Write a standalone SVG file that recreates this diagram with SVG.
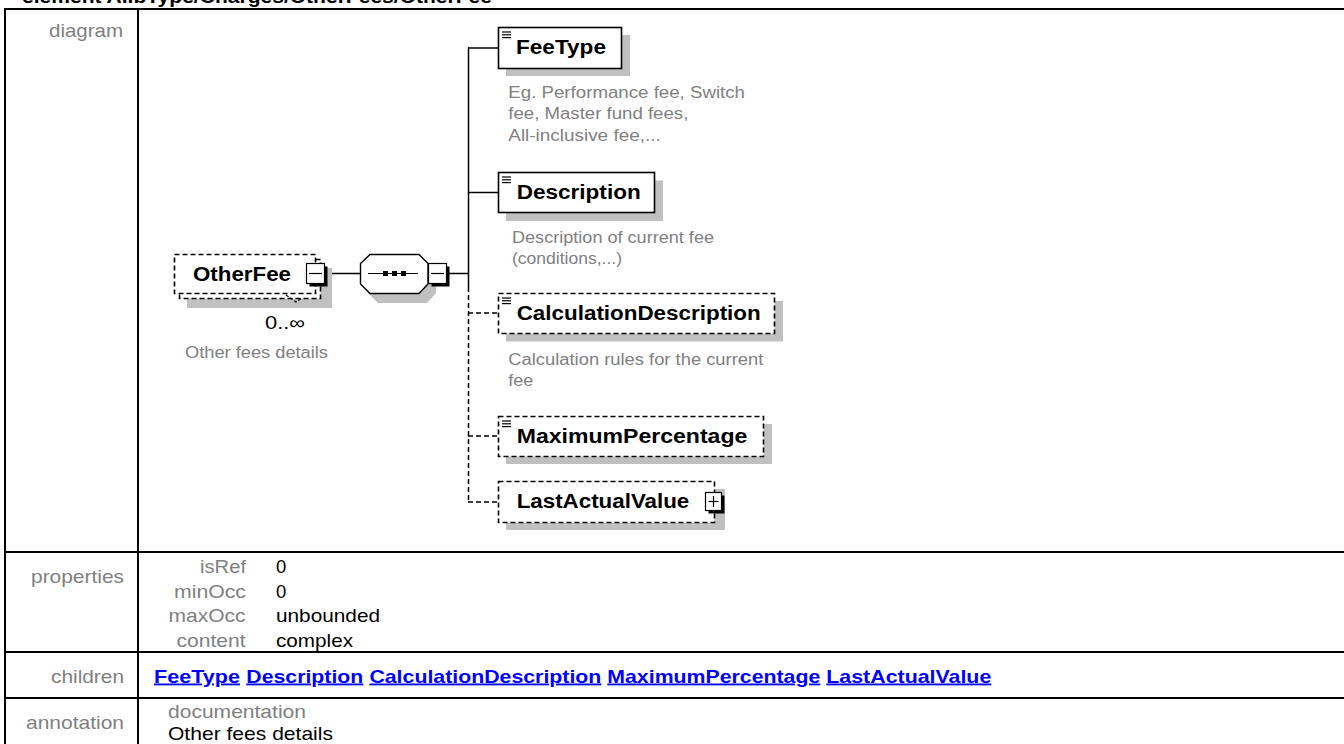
<svg xmlns="http://www.w3.org/2000/svg" width="1344" height="744" viewBox="0 0 1344 744">
<style>
text{font-family:"Liberation Sans",Arial,sans-serif}
.ttl{font-size:18.5px;font-weight:bold;fill:#000}
.lbl{font-size:18.5px;fill:#808080}
.val{font-size:18.5px;fill:#000}
.link{font-size:18.5px;font-weight:bold;fill:#0000ff;text-decoration:underline}
.nm{font-size:20px;font-weight:bold;fill:#000}
.ann{font-size:16px;fill:#808080}
.occ{font-size:18px;fill:#000}
.box{fill:#fff;stroke:#000;stroke-width:1.6}
.dbox{fill:#fff;stroke:#000;stroke-width:1.6;stroke-dasharray:5 3}
.shd{fill:#c0c0c0}
.ln{stroke:#000;stroke-width:1.5;fill:none}
.dash{stroke-dasharray:5 3}
.tbl{stroke:#000;stroke-width:2}
.ico{stroke:#000;stroke-width:1.2}
.blk{fill:#000}
</style>
<rect x="0" y="0" width="1344" height="744" fill="#fff"/>
<text class="ttl" x="22" y="3" textLength="470" lengthAdjust="spacingAndGlyphs">element AIIbType/Charges/OtherFees/OtherFee</text>
<g id="table">
<line class="tbl" x1="4" y1="9" x2="1344" y2="9"/>
<line class="tbl" x1="5" y1="8" x2="5" y2="744"/>
<line class="tbl" x1="138" y1="8" x2="138" y2="744"/>
<line class="tbl" x1="4" y1="552" x2="1344" y2="552"/>
<line class="tbl" x1="4" y1="652" x2="1344" y2="652"/>
<line class="tbl" x1="4" y1="698" x2="1344" y2="698"/>
<text class="lbl" x="49" y="37" textLength="74" lengthAdjust="spacingAndGlyphs">diagram</text>
<text class="lbl" x="31" y="583" textLength="93" lengthAdjust="spacingAndGlyphs">properties</text>
<text class="lbl" x="200" y="573" textLength="46" lengthAdjust="spacingAndGlyphs">isRef</text>
<text class="lbl" x="174" y="597.5" textLength="72" lengthAdjust="spacingAndGlyphs">minOcc</text>
<text class="lbl" x="168.5" y="622" textLength="77" lengthAdjust="spacingAndGlyphs">maxOcc</text>
<text class="lbl" x="176.5" y="646.5" textLength="69" lengthAdjust="spacingAndGlyphs">content</text>
<text class="val" x="276" y="573">0</text>
<text class="val" x="276" y="597.5">0</text>
<text class="val" x="276" y="622" textLength="104" lengthAdjust="spacingAndGlyphs">unbounded</text>
<text class="val" x="276" y="646.5" textLength="77" lengthAdjust="spacingAndGlyphs">complex</text>
<text class="lbl" x="51" y="682.5" textLength="73" lengthAdjust="spacingAndGlyphs">children</text>
<text class="link" x="154" y="682.5" textLength="86" lengthAdjust="spacingAndGlyphs">FeeType</text>
<text class="link" x="246.3" y="682.5" textLength="117" lengthAdjust="spacingAndGlyphs">Description</text>
<text class="link" x="369.4" y="682.5" textLength="232" lengthAdjust="spacingAndGlyphs">CalculationDescription</text>
<text class="link" x="607.3" y="682.5" textLength="213" lengthAdjust="spacingAndGlyphs">MaximumPercentage</text>
<text class="link" x="826.3" y="682.5" textLength="165" lengthAdjust="spacingAndGlyphs">LastActualValue</text>
<text class="lbl" x="26" y="729" textLength="98" lengthAdjust="spacingAndGlyphs">annotation</text>
<text class="lbl" x="168" y="717.5" textLength="138" lengthAdjust="spacingAndGlyphs">documentation</text>
<text class="val" x="168" y="740" textLength="165" lengthAdjust="spacingAndGlyphs">Other fees details</text>
</g>
<g id="connectors">
<line class="ln" x1="326" y1="273.5" x2="360" y2="273.5"/>
<line class="ln" x1="449" y1="273.5" x2="468.5" y2="273.5"/>
<line class="ln" x1="468.5" y1="47.5" x2="468.5" y2="287"/>
<line class="ln dash" x1="468.5" y1="287" x2="468.5" y2="502"/>
<line class="ln" x1="468" y1="48" x2="498" y2="48"/>
<line class="ln" x1="468" y1="192.5" x2="498" y2="192.5"/>
<line class="ln dash" x1="468" y1="313" x2="498" y2="313"/>
<line class="ln dash" x1="468" y1="436" x2="498" y2="436"/>
<line class="ln dash" x1="468" y1="502" x2="498" y2="502"/>
</g>
<g id="node-OtherFee">
<rect class="shd" x="187" y="268" width="145" height="40"/>
<rect class="dbox" x="179.5" y="259.5" width="141" height="39"/>
<rect class="dbox" x="174.5" y="254.5" width="141" height="39"/>
<polyline class="ln dash" points="286,295 296,302 302,298" style="stroke-width:1.2;stroke-dasharray:3 2"/>
<text class="nm" x="193" y="281" textLength="98" lengthAdjust="spacingAndGlyphs">OtherFee</text>
<rect class="blk" x="309.5" y="266.5" width="18" height="20"/>
<rect class="box" x="306.5" y="263.5" width="18" height="20" style="stroke-width:1.2"/>
<line class="ln" x1="309" y1="273.5" x2="322" y2="273.5" style="stroke-width:1.2"/>
<text class="occ" x="265" y="329" textLength="40" lengthAdjust="spacingAndGlyphs">0..∞</text>
<text class="ann" x="185" y="358" textLength="143" lengthAdjust="spacingAndGlyphs">Other fees details</text>
</g>
<g id="node-sequence">
<polygon class="shd" points="378,263 427,263 436,272 436,293 427,303 378,303 368,293 368,272"/>
<polygon class="box" points="370,254.5 419,254.5 428,263.5 428,284 419,293.5 370,293.5 360.5,284 360.5,263.5" style="stroke-width:1.4"/>
<line class="ln" x1="368" y1="273.5" x2="418" y2="273.5" style="stroke-width:1.2"/>
<rect class="blk" x="383" y="271" width="5" height="5"/>
<rect class="blk" x="392" y="271" width="5" height="5"/>
<rect class="blk" x="401" y="271" width="5" height="5"/>
<rect class="blk" x="431.5" y="266.5" width="18" height="20"/>
<rect class="box" x="428.5" y="263.5" width="18" height="20" style="stroke-width:1.2"/>
<line class="ln" x1="431" y1="273.5" x2="444" y2="273.5" style="stroke-width:1.2"/>
</g>
<g id="node-FeeType">
<rect class="shd" x="506" y="35" width="124" height="41"/>
<rect class="box" x="498.5" y="27.5" width="123" height="41"/>
<line class="ico" x1="502" y1="32" x2="511" y2="32"/>
<line class="ico" x1="502" y1="34.8" x2="511" y2="34.8"/>
<line class="ico" x1="502" y1="37.6" x2="511" y2="37.6"/>
<text class="nm" x="516" y="54.3" textLength="90" lengthAdjust="spacingAndGlyphs">FeeType</text>
<text class="ann" x="508.3" y="97.7" textLength="236.7" lengthAdjust="spacingAndGlyphs">Eg. Performance fee, Switch</text>
<text class="ann" x="508.3" y="119.3" textLength="180" lengthAdjust="spacingAndGlyphs">fee, Master fund fees,</text>
<text class="ann" x="508.3" y="141" textLength="152.4" lengthAdjust="spacingAndGlyphs">All-inclusive fee,...</text>
</g>
<g id="node-Description">
<rect class="shd" x="506" y="180.5" width="157" height="40.5"/>
<rect class="box" x="498.5" y="172.5" width="156" height="40"/>
<line class="ico" x1="502" y1="177" x2="511" y2="177"/>
<line class="ico" x1="502" y1="179.8" x2="511" y2="179.8"/>
<line class="ico" x1="502" y1="182.6" x2="511" y2="182.6"/>
<text class="nm" x="516.7" y="199" textLength="124" lengthAdjust="spacingAndGlyphs">Description</text>
<text class="ann" x="512" y="243.3" textLength="202" lengthAdjust="spacingAndGlyphs">Description of current fee</text>
<text class="ann" x="512" y="264.3" textLength="110" lengthAdjust="spacingAndGlyphs">(conditions,...)</text>
</g>
<g id="node-CalculationDescription">
<rect class="shd" x="506" y="301" width="277" height="40.5"/>
<rect class="dbox" x="498.5" y="293.5" width="276" height="40"/>
<line class="ico" x1="502" y1="298" x2="511" y2="298"/>
<line class="ico" x1="502" y1="300.8" x2="511" y2="300.8"/>
<line class="ico" x1="502" y1="303.6" x2="511" y2="303.6"/>
<text class="nm" x="516.7" y="320" textLength="244" lengthAdjust="spacingAndGlyphs">CalculationDescription</text>
<text class="ann" x="508.3" y="365" textLength="255" lengthAdjust="spacingAndGlyphs">Calculation rules for the current</text>
<text class="ann" x="508.3" y="386" textLength="25" lengthAdjust="spacingAndGlyphs">fee</text>
</g>
<g id="node-MaximumPercentage">
<rect class="shd" x="506" y="424" width="266" height="40"/>
<rect class="dbox" x="498.5" y="416.5" width="265" height="40"/>
<line class="ico" x1="502" y1="421" x2="511" y2="421"/>
<line class="ico" x1="502" y1="423.8" x2="511" y2="423.8"/>
<line class="ico" x1="502" y1="426.6" x2="511" y2="426.6"/>
<text class="nm" x="516.7" y="443.3" textLength="230.6" lengthAdjust="spacingAndGlyphs">MaximumPercentage</text>
</g>
<g id="node-LastActualValue">
<rect class="shd" x="506" y="489" width="219" height="41"/>
<rect class="dbox" x="498.5" y="481.5" width="216" height="41"/>
<text class="nm" x="516.7" y="508.3" textLength="172.6" lengthAdjust="spacingAndGlyphs">LastActualValue</text>
<rect class="blk" x="708.5" y="495.5" width="16" height="18"/>
<rect class="box" x="705.5" y="492.5" width="16" height="18" style="stroke-width:1.2"/>
<line class="ln" x1="708.5" y1="501.5" x2="718.5" y2="501.5" style="stroke-width:1.2"/>
<line class="ln" x1="713.5" y1="496" x2="713.5" y2="507" style="stroke-width:1.2"/>
</g>
</svg>
